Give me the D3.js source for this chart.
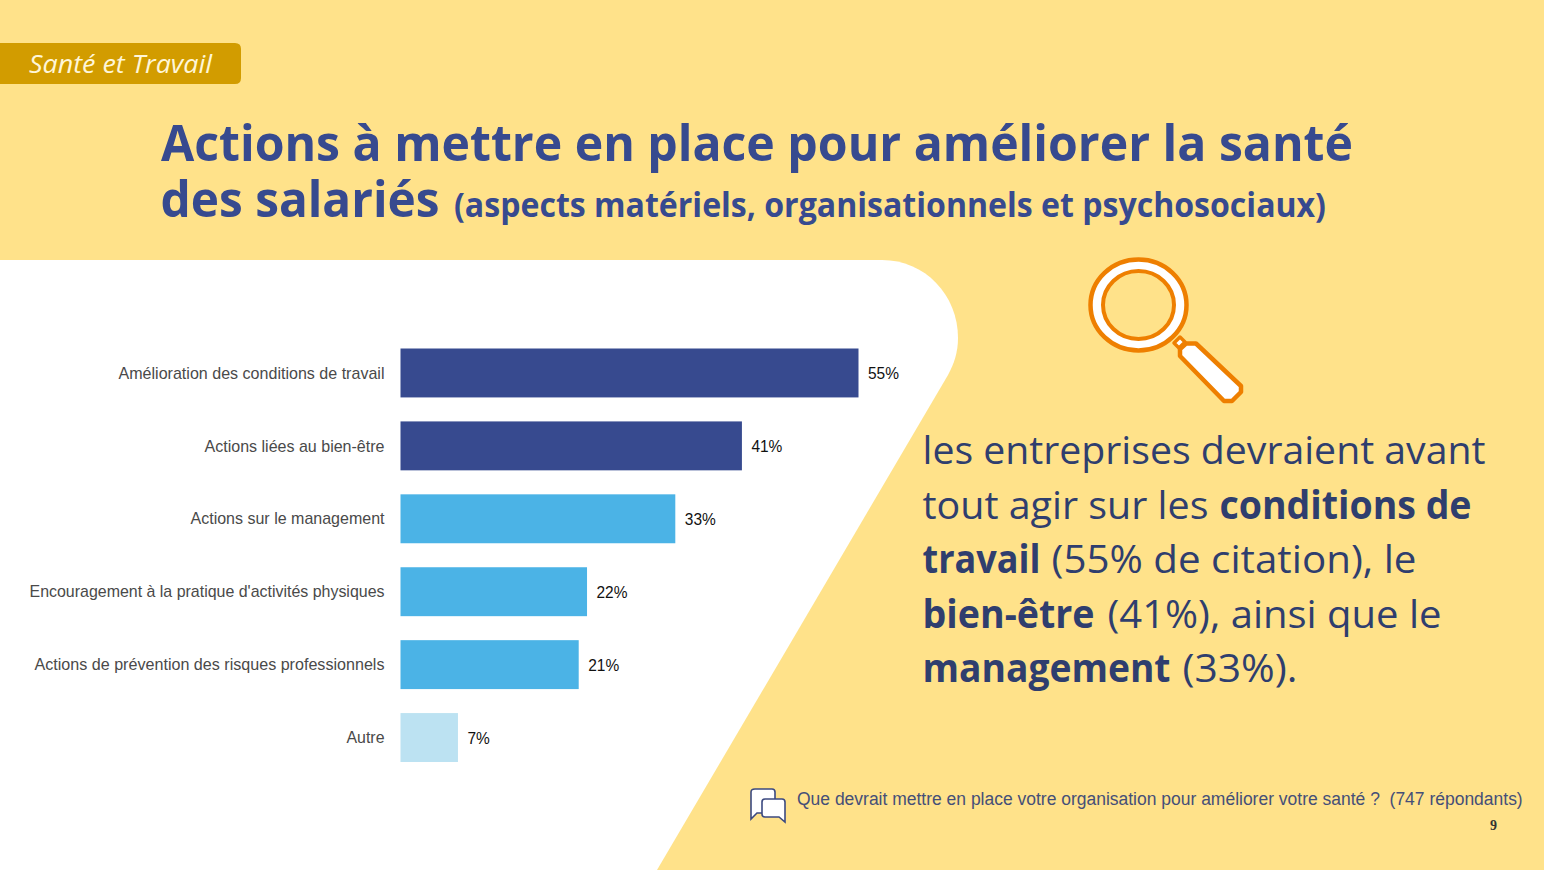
<!DOCTYPE html>
<html lang="fr">
<head>
<meta charset="utf-8">
<title>Santé et Travail</title>
<script src="https://cdn.jsdelivr.net/npm/d3@7"></script>
<style>
    html, body { margin: 0; padding: 0; background: #FFE28A; overflow: hidden; }
    svg { display: block; }
    .tick text { font-family: "Liberation Sans", Arial, sans-serif; }
</style>
</head>
<body>
<div id="container"></div>
<script>
// chart values (labels are rounded)
const categories = [
    "Amélioration des conditions de travail",
    "Actions liées au bien-être",
    "Actions sur le management",
    "Encouragement à la pratique d'activités physiques",
    "Actions de prévention des risques professionnels",
    "Autre"
];
const percents = [55, 41, 33, 22.4, 21.4, 6.9];
const barColors = ["#374A8F", "#374A8F", "#4BB3E6", "#4BB3E6", "#4BB3E6", "#BCE2F2"];
// text widths of the tick labels in the picture
const labelWidths = [266, 180, 194, 355, 350, 38];

const svg = d3.select("#container").append("svg")
    .attr("width", 1544)
    .attr("height", 870);

// yellow background and white panel behind the chart
svg.append("rect").attr("width", 1544).attr("height", 870).attr("fill", "#FFE28A");
svg.append("path")
    .attr("fill", "#fff")
    .attr("d", "M0,260 L882,260 C925,260 958,295 958,338 C958,352 954,364 948,375 L657,870 L0,870 Z");

// tag top left
svg.append("path")
    .attr("fill", "#D29C00")
    .attr("d", "M0,43 L235,43 Q241,43 241,49 L241,78 Q241,84 235,84 L0,84 Z");
svg.append("text")
    .attr("x", 29).attr("y", 73)
    .attr("font-family", "Open Sans")
    .attr("font-style", "italic")
    .attr("font-size", 25)
    .attr("textLength", 183)
    .attr("lengthAdjust", "spacingAndGlyphs")
    .attr("fill", "#FFF6D8")
    .text("Santé et Travail");

// title
const title = svg.append("g")
    .attr("font-family", "Open Sans")
    .attr("font-weight", 700)
    .attr("fill", "#374A8F");
title.append("text")
    .attr("x", 161).attr("y", 161)
    .attr("font-size", 50)
    .attr("textLength", 1192)
    .attr("lengthAdjust", "spacingAndGlyphs")
    .text("Actions à mettre en place pour améliorer la santé");
title.append("text")
    .attr("x", 160.5).attr("y", 217)
    .attr("font-size", 50)
    .attr("textLength", 279)
    .attr("lengthAdjust", "spacingAndGlyphs")
    .text("des salariés");
title.append("text")
    .attr("x", 454).attr("y", 217)
    .attr("font-size", 34)
    .attr("textLength", 872)
    .attr("lengthAdjust", "spacingAndGlyphs")
    .text("(aspects matériels, organisationnels et psychosociaux)");

// bars
const x = d3.scaleLinear().domain([0, 55]).range([400.5, 858.5]);
const y = d3.scaleBand().domain(categories).range([348.5, 762]).paddingInner(0.329);

const yAxis = d3.axisLeft(y).tickSize(0).tickPadding(16);
const axisG = svg.append("g")
    .attr("transform", "translate(400.5,0)")
    .call(yAxis);
axisG.select(".domain").remove();
axisG.selectAll("text")
    .attr("fill", "#4A4A4A")
    .style("font-size", "17px")
    .attr("dy", "0.33em")
    .attr("lengthAdjust", "spacingAndGlyphs")
    .attr("textLength", (d, i) => labelWidths[i]);

svg.selectAll("rect.bar")
    .data(categories)
    .enter()
    .append("rect")
    .attr("class", "bar")
    .attr("x", x(0))
    .attr("y", d => y(d))
    .attr("width", (d, i) => x(percents[i]) - x(0))
    .attr("height", y.bandwidth())
    .attr("fill", (d, i) => barColors[i]);

svg.selectAll("text.val")
    .data(categories)
    .enter()
    .append("text")
    .attr("class", "val")
    .attr("x", (d, i) => x(percents[i]) + 9.5)
    .attr("y", d => y(d) + y.bandwidth() / 2 + 6.5)
    .attr("font-family", "Liberation Sans")
    .attr("font-size", 17)
    .attr("fill", "#111")
    .text((d, i) => Math.round(percents[i]) + "%")
    .attr("lengthAdjust", "spacingAndGlyphs")
    .attr("textLength", function () { return this.getComputedTextLength() * 0.91; });

// magnifying glass
const glass = svg.append("g").attr("stroke", "#EE7F00").attr("stroke-linejoin", "round").attr("fill", "none");
glass.append("ellipse").attr("cx", 1138.5).attr("cy", 305).attr("rx", 42).attr("ry", 40)
    .attr("stroke", "#fff").attr("stroke-width", 11);
glass.append("ellipse").attr("cx", 1138.5).attr("cy", 305).attr("rx", 48).attr("ry", 45.5)
    .attr("stroke-width", 4.5);
glass.append("ellipse").attr("cx", 1138.5).attr("cy", 305).attr("rx", 35.5).attr("ry", 34)
    .attr("stroke-width", 4);
glass.append("path").attr("fill", "#fff").attr("stroke-width", 3.5)
    .attr("d", "M1174,343 L1180,337 L1185,342 L1179,348 Z");
glass.append("path").attr("fill", "#fff").attr("stroke-width", 4.5)
    .attr("d", "M1180,349 L1186,343.5 L1196,343.5 L1241,386 L1241,392 L1232,401 L1224,401 L1180,356 Z");

// comment on the right, each run has the width it has in the picture
const commentLines = [
    [["les entreprises devraient avant", 400, 563, 0]],
    [["tout agir sur les", 400, 286, 0], ["conditions de", 700, 252, 297]],
    [["travail", 700, 118, 0], ["(55% de citation), le", 400, 365, 129]],
    [["bien-être", 700, 172, 0], ["(41%), ainsi que le", 400, 334, 185]],
    [["management", 700, 248, 0], ["(33%).", 400, 115, 260]]
];
const commentY = [464, 519, 573, 628, 682];
const comment = svg.append("g")
    .attr("font-family", "Open Sans")
    .attr("font-size", 38.5)
    .attr("fill", "#2F3E6E");
commentLines.forEach(function (line, i) {
    line.forEach(function (part) {
        comment.append("text")
            .attr("x", 922.5 + part[3])
            .attr("y", commentY[i])
            .attr("font-weight", part[1])
            .attr("textLength", part[2])
            .attr("lengthAdjust", "spacingAndGlyphs")
            .text(part[0]);
    });
});

// speech bubbles
const bubbles = svg.append("g").attr("stroke", "#3C4A80").attr("stroke-width", 1.6).attr("fill", "#fff");
bubbles.append("path")
    .attr("d", "M755,789 L772,789 Q775,789 775,792 L775,810 Q775,813 772,813 L757,813 L751,819 L751,792 Q751,789 755,789 Z");
bubbles.append("path")
    .attr("d", "M765,799 L782,799 Q785,799 785,802 L785,822 L779,817 L765,817 Q762,817 762,814 L762,802 Q762,799 765,799 Z");

// question and page number, the question is squeezed to its width in the picture
const question = svg.append("text")
    .attr("font-family", "Liberation Sans")
    .attr("font-size", 19)
    .attr("fill", "#454F78")
    .style("white-space", "pre")
    .text("Que devrait mettre en place votre organisation pour améliorer votre santé ?  (747 répondants)");
question.attr("transform", "translate(797,805) scale(" + (726 / question.node().getComputedTextLength()) + ",1)");
svg.append("text")
    .attr("x", 1493.5).attr("y", 830)
    .attr("text-anchor", "middle")
    .attr("font-family", "Liberation Serif")
    .attr("font-weight", 700)
    .attr("font-size", 14)
    .attr("fill", "#333")
    .text("9");
</script>
</body>
</html>
